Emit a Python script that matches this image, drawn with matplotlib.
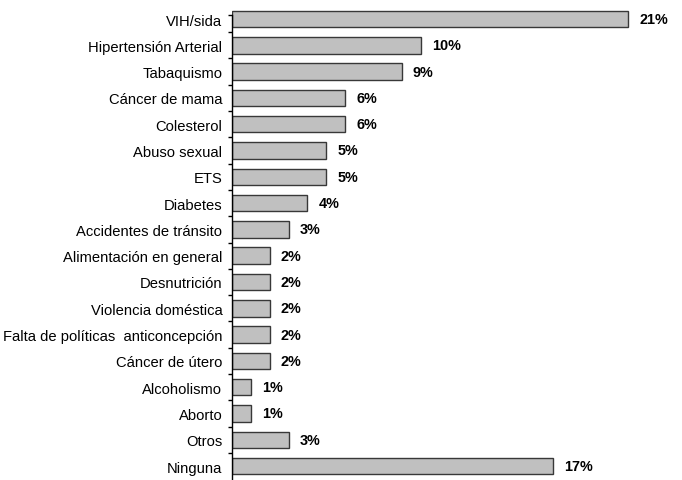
import numpy as np
import matplotlib
matplotlib.use("Agg")
import matplotlib.pyplot as plt

# Datos
categorias = [
    "VIH/sida", "Hipertensión Arterial", "Tabaquismo", "Cáncer de mama",
    "Colesterol", "Abuso sexual", "ETS", "Diabetes", "Accidentes de tránsito",
    "Alimentación en general", "Desnutrición", "Violencia doméstica",
    "Falta de políticas  anticoncepción", "Cáncer de útero", "Alcoholismo",
    "Aborto", "Otros", "Ninguna",
]
porcentajes = [21, 10, 9, 6, 6, 5, 5, 4, 3, 2, 2, 2, 2, 2, 1, 1, 3, 17]
etiquetas = [f"{v}%" for v in porcentajes]

plt.rcParams['font.family'] = ['Liberation Sans', 'DejaVu Sans']

fig = plt.figure(figsize=(6.82, 4.81), dpi=100)
ax = fig.add_axes([232 / 682, 1 - 480.25 / 481, (666 - 232) / 682, (480.25 - 6.85) / 481])

y = np.arange(len(categorias))
ax.barh(y, porcentajes, height=0.63, color="#c0c0c0", edgecolor="#383838", linewidth=1.0)

for yi, v, lab in zip(y, porcentajes, etiquetas):
    ax.annotate(lab, (v, yi), xytext=(8, 0), textcoords="offset points",
                ha="left", va="center", fontsize=10.4, fontweight="bold")

ax.set_xlim(0, 23)
ax.set_ylim(17.5, -0.5)

ax.set_yticks(y)
ax.set_yticklabels(categorias, fontsize=10.6)
ax.tick_params(axis="y", which="major", length=0, pad=7)
top_edge = -0.5 + (16 - 6.85) / 26.3
ax.set_yticks([top_edge] + list(np.arange(0.5, 17, 1.0)), minor=True)
ax.tick_params(axis="y", which="minor", length=3, width=1, direction="out")

ax.set_xticks([])
for s in ["top", "right", "bottom"]:
    ax.spines[s].set_visible(False)
ax.spines["left"].set_bounds(top_edge, 17.5)
ax.spines["left"].set_linewidth(1)

fig.savefig("out.png", dpi=100)
